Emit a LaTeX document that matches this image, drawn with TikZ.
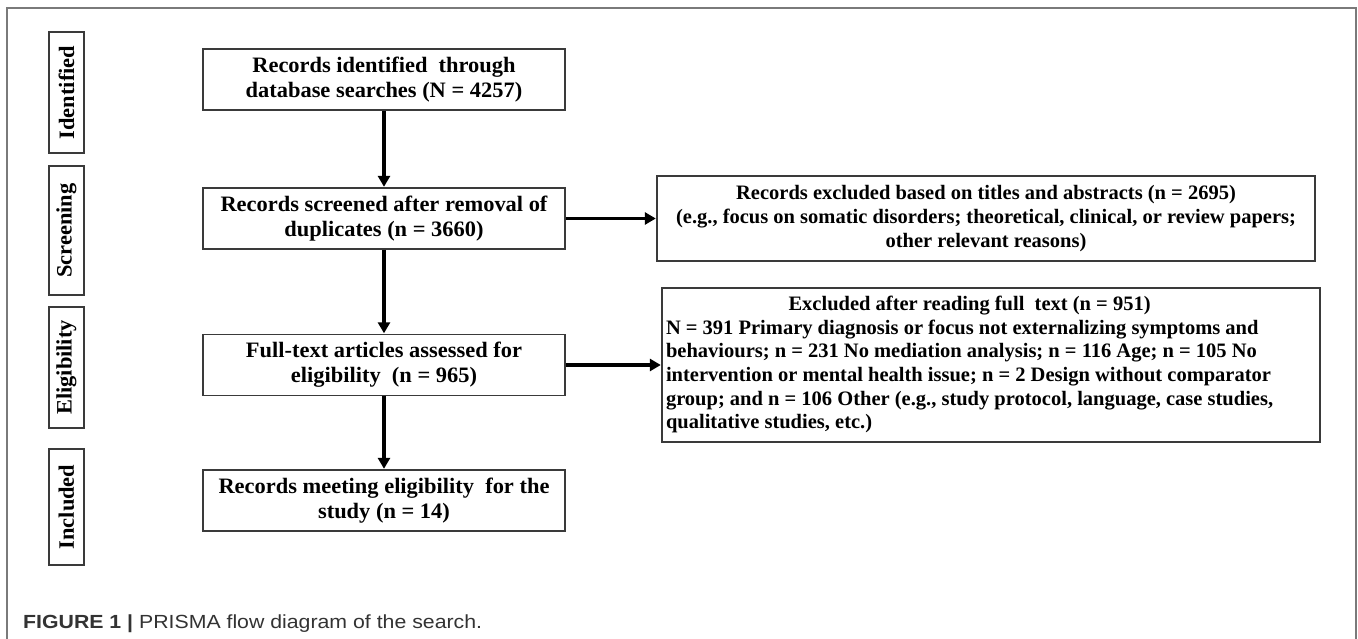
\documentclass[tikz,border=0pt]{standalone}
\usepackage{fontspec}
\setmainfont{Liberation Serif}
\newfontfamily\boxfont[FakeStretch=1.02]{Liberation Serif}
\newfontfamily\sidefont{Liberation Serif}
\newfontfamily\capfont[FakeStretch=1.12]{Liberation Sans}
\usetikzlibrary{arrows.meta}
\definecolor{framegray}{HTML}{7A7A7A}
\definecolor{boxline}{HTML}{3A3A3A}
\definecolor{captext}{HTML}{333333}
\tikzset{
  mainbox/.style={draw=boxline, line width=1.4pt, minimum width=362pt, minimum height=61pt,
    inner sep=0pt, align=center, font=\boxfont\bfseries\fontsize{22}{25}\selectfont},
  sidebox/.style={draw=boxline, line width=1.4pt, inner sep=0pt, font=\sidefont\bfseries\fontsize{20.5}{23.6}\selectfont},
  stagebox/.style={draw=boxline, line width=1.4pt, rotate=90, minimum height=35pt, inner sep=0pt,
    font=\boxfont\bfseries\fontsize{22}{24}\selectfont},
  arr/.style={line width=3.2pt, -{Triangle[length=11pt,width=12pt]}, shorten >=0.5pt},
  framestyle/.style={draw=framegray, line width=1.5pt}
}
\begin{document}
\begin{tikzpicture}[x=1pt,y=-1pt]
\useasboundingbox (0,0) rectangle (1358,639);
\fill[white] (0,0) rectangle (1358,639);
% outer frame (open at bottom)
\draw[framestyle] (7,639) -- (7,8) -- (1356,8) -- (1356,639);
% stage labels
\node[stagebox, minimum width=121pt] (sid) at (66.5,92.5) {Identified};
\node[stagebox, minimum width=129pt] (sscr) at (66.5,230.5) {Screening};
\node[stagebox, minimum width=121pt] (selig) at (66.5,367.5) {Eligibility};
\node[stagebox, minimum width=116pt] (sinc) at (66.5,507) {Included};
% main flow
\node[mainbox] (b1) at (384,79.5) {Records identified\ \ through\\database searches (N = 4257)};
\node[mainbox] (b2) at (384,218.5) {Records screened after removal of\\duplicates (n = 3660)};
\node[mainbox] (b3) at (384,365) {Full-text articles assessed for\\eligibility\ \ (n = 965)};
\node[mainbox] (b4) at (384,500.5) {Records meeting eligibility\ \ for the\\study (n = 14)};
% exclusion boxes
\node[sidebox, minimum width=658pt, minimum height=85pt, align=center] (r1) at (986,218.5)
  {Records excluded based on titles and abstracts (n = 2695)\\
   (e.g., focus on somatic disorders; theoretical, clinical, or review papers;\\
   other relevant reasons)};
\node[sidebox, minimum width=658pt, minimum height=154pt, inner xsep=4pt] (r2) at (991,365)
  {\makebox[650pt][l]{\def\arraystretch{1.0}\begin{tabular}{@{}l@{}}
   \multicolumn{1}{@{}c@{}}{Excluded after reading full\ \ text (n = 951)}\\
   N = 391 Primary diagnosis or focus not externalizing symptoms and\\
   behaviours; n = 231 No mediation analysis; n = 116 Age; n = 105 No\\
   intervention or mental health issue; n = 2 Design without comparator\\
   group; and n = 106 Other (e.g., study protocol, language, case studies,\\
   qualitative studies, etc.)
   \end{tabular}}};
% connectors
\draw[arr] (b1) -- (b2);
\draw[arr] (b2) -- (b3);
\draw[arr] (b3) -- (b4);
\draw[arr] (b2) -- (r1);
\draw[arr] (b3) -- (r2);
% caption
\node[anchor=base west, inner sep=0pt, text=captext, font=\capfont\fontsize{19}{21}\selectfont] (cap) at (23,628)
  {\textbf{FIGURE 1 |} PRISMA flow diagram of the search.};
\end{tikzpicture}
\end{document}
